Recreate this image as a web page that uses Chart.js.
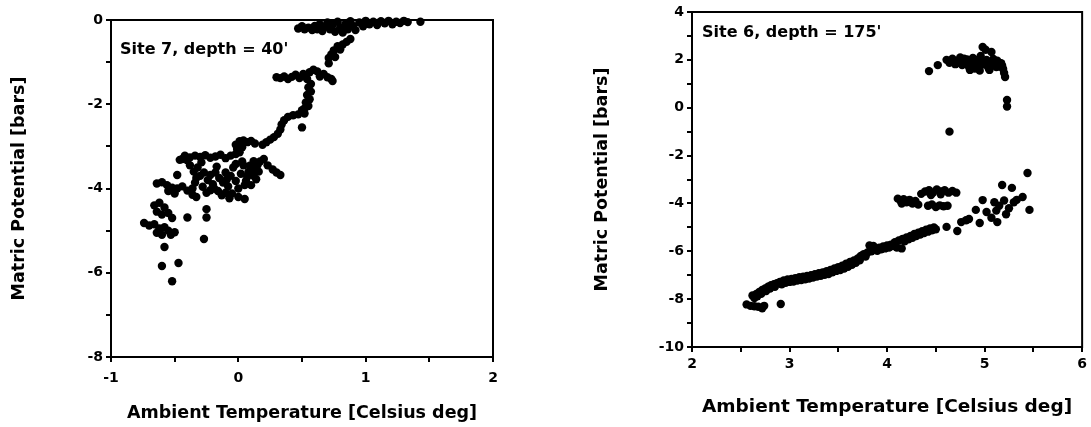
<!DOCTYPE html>
<html>
<head>
<meta charset="utf-8">
<script src="https://cdn.jsdelivr.net/npm/chart.js@4"></script>
<style>
  body { margin: 0; background: #fff; width: 1091px; height: 427px; position: relative; overflow: hidden; }
  .panel { position: absolute; top: 0; height: 427px; }
  #panel7 { left: 0; width: 545px; }
  #panel6 { left: 560px; width: 531px; }
</style>
</head>
<body>
<div class="panel" id="panel7"><canvas id="site7"></canvas></div>
<div class="panel" id="panel6"><canvas id="site6"></canvas></div>
<script>
// Site 7, depth 40' : ambient temperature [C] vs matric potential [bars]
const site7Temp = [
  0.47, 0.50, 0.52, 0.55, 0.58, 0.60, 0.62, 0.64, 0.66, 0.68, 0.70, 0.72, 0.74, 0.76, 0.78, 0.80, 0.82, 0.84, 0.86,
  0.88, 0.90, 0.92, 0.95, 0.98, 1.00, 1.03, 1.06, 1.09, 1.12, 1.15, 1.18, 1.21, 1.24, 1.27, 1.30, 1.33, 1.43,
  0.88, 0.85, 0.82, 0.78, 0.80, 0.75, 0.73, 0.76, 0.71, 0.71,
  0.30, 0.33, 0.36, 0.39, 0.42, 0.45, 0.48, 0.51, 0.54, 0.56, 0.59, 0.62, 0.64, 0.67, 0.70, 0.73, 0.74,
  0.57, 0.55, 0.57, 0.54, 0.56, 0.53, 0.55, 0.52, 0.50,
  0.52, 0.47, 0.43, 0.39, 0.36, 0.50, 0.34, 0.33, 0.31, 0.28, 0.25, 0.22, 0.19,
  -0.02, 0.01, 0.04, 0.07, 0.10, 0.13, 0.03, -0.01,
  -0.46, -0.42, -0.38, -0.34, -0.30, -0.26, -0.22, -0.18, -0.14, -0.10, -0.06, -0.02, 0.01,
  -0.38, -0.35, -0.32, -0.30, -0.27, -0.24, -0.22, -0.20, -0.18, -0.15, -0.12, -0.10, -0.08, -0.06, -0.04, -0.02,
  0.00, 0.02, 0.04, 0.06, 0.08, 0.10, 0.12, -0.28, -0.25, -0.22, -0.16, -0.13, -0.10, -0.05, 0.00, -0.34, -0.36,
  0.03, -0.02, 0.12, 0.09, 0.05,
  -0.33, -0.17, 0.07, -0.09, -0.19, 0.11, 0.15, -0.44, -0.29,
  0.17, 0.20, 0.23, 0.27, 0.30, 0.33, 0.16, 0.14,
  -0.64, -0.60, -0.56, -0.52, -0.48, -0.44, -0.40, -0.36, -0.33, -0.55, -0.50,
  -0.66, -0.62, -0.58, -0.64, -0.60, -0.55, -0.52, -0.74, -0.70, -0.66, -0.62, -0.58, -0.55, -0.64, -0.60, -0.53, -0.50,
  -0.48, -0.40, -0.40, -0.25, -0.27, -0.58, -0.60, -0.47, -0.52, -0.07, 0.05, -0.25
];
const site7Potential = [
  -0.20, -0.15, -0.22, -0.18, -0.24, -0.14, -0.22, -0.10, -0.26, -0.16, -0.06, -0.22, -0.12, -0.28, -0.04, -0.18, -0.30, -0.10, -0.22,
  -0.03, -0.14, -0.24, -0.06, -0.15, -0.02, -0.10, -0.04, -0.12, -0.03, -0.08, -0.02, -0.10, -0.04, -0.07, -0.02, -0.05, -0.04,
  -0.45, -0.52, -0.58, -0.62, -0.70, -0.72, -0.82, -0.88, -0.90, -1.03,
  -1.36, -1.38, -1.34, -1.40, -1.35, -1.30, -1.38, -1.28, -1.40, -1.24, -1.18, -1.22, -1.34, -1.28, -1.36, -1.40, -1.45,
  -1.52, -1.60, -1.70, -1.78, -1.88, -1.96, -2.04, -2.10, -2.14,
  -2.22, -2.24, -2.26, -2.30, -2.38, -2.55, -2.48, -2.60, -2.70, -2.78, -2.84, -2.90, -2.96,
  -2.96, -2.88, -2.86, -2.90, -2.87, -2.93, -3.02, -3.06,
  -3.32, -3.22, -3.26, -3.22, -3.25, -3.21, -3.27, -3.24, -3.20, -3.28, -3.22, -3.18, -3.14,
  -3.45, -3.60, -3.50, -3.70, -3.62, -3.80, -3.68, -3.90, -3.62, -3.75, -3.86, -3.62, -3.95, -3.70, -3.50, -3.82,
  -4.00, -3.65, -3.45, -3.82, -3.60, -3.92, -3.70, -3.96, -4.10, -4.04, -4.06, -4.16, -4.10, -4.12, -4.20, -3.86, -4.00,
  -3.36, -3.42, -3.35, -3.46, -3.92,
  -3.75, -3.48, -3.72, -3.78, -4.00, -3.55, -3.45, -3.30, -3.38,
  -3.36, -3.30, -3.45, -3.55, -3.62, -3.68, -3.60, -3.78,
  -3.88, -3.85, -3.92, -3.98, -4.00, -3.95, -4.05, -4.15, -4.20, -4.06, -4.12,
  -4.40, -4.34, -4.45, -4.55, -4.62, -4.58, -4.70, -4.82, -4.88, -4.85, -4.95, -4.92, -5.00, -5.05, -5.10, -5.10, -5.04,
  -3.68, -3.33, -4.69, -4.69, -5.20, -5.39, -5.84, -5.77, -6.20, -4.23, -4.25, -4.49
];

// Site 6, depth 175'
const site6Temp = [
  4.43, 4.52, 4.61, 4.64, 4.67, 4.70, 4.72, 4.75, 4.77, 4.80, 4.82, 4.84, 4.86, 4.88, 4.90, 4.92, 4.94, 4.96, 4.98,
  5.00, 5.02, 5.04, 5.06, 5.07, 5.09, 5.11, 5.13, 5.15, 5.17, 5.19, 5.20, 5.21, 4.85, 4.95, 5.05, 5.23, 5.23, 4.64,
  4.66, 4.74, 4.79, 4.83, 4.87, 4.91, 4.93, 4.97, 5.01, 5.03, 5.08, 5.10, 5.12, 5.14, 5.16, 5.18, 5.01,
  4.11, 4.14, 4.17, 4.20, 4.23, 4.26, 4.29, 4.32, 4.15, 4.35, 4.39, 4.43, 4.47, 4.51, 4.55, 4.59, 4.63, 4.67, 4.71,
  4.45, 4.55, 4.42, 4.46, 4.50, 4.54, 4.58, 4.62,
  5.44, 5.18, 5.28, 4.98, 5.46, 5.39, 5.10, 5.15, 5.20, 5.25, 5.30, 5.33, 5.12, 5.22, 4.91, 5.02, 5.13, 4.95,
  4.61, 4.72, 4.76, 4.84, 5.07, 4.81,
  2.62, 2.64, 2.66, 2.69, 2.72, 2.75, 2.78, 2.81, 2.84, 2.87, 2.90, 2.94, 2.98, 3.02, 3.06, 3.10, 3.14, 3.18, 3.22,
  3.26, 3.30, 3.34, 3.38, 3.42, 3.46, 3.50, 3.54, 3.58, 3.62, 3.66, 3.70, 3.73, 3.76, 3.80, 3.84, 3.88, 3.92, 3.96,
  4.00, 4.04, 4.08, 4.12, 4.16, 4.20, 4.24, 4.28, 4.32, 4.36, 4.40, 4.44, 4.48,
  2.67, 2.71, 2.76, 2.80, 2.85, 2.92, 2.96, 3.00, 3.04, 3.08, 3.12, 3.16, 3.20, 3.24, 3.28, 3.32, 3.36, 3.44, 3.48,
  3.52, 3.56, 3.64, 3.68, 3.72, 3.78, 3.90, 3.94, 3.98, 4.02, 4.06, 4.18, 4.22, 4.26, 4.30, 4.34, 4.38, 4.42, 4.46, 4.50,
  3.82, 3.86, 4.10, 4.15, 3.60, 3.40,
  2.56, 2.60, 2.64, 2.68, 2.72, 2.74, 2.91
];
const site6Potential = [
  1.53, 1.78, 2.00, 1.88, 2.05, 1.82, 1.96, 2.10, 1.78, 1.92, 2.02, 1.70, 1.88, 2.08, 1.64, 1.84, 1.96, 2.16, 2.54,
  1.80, 2.00, 1.66, 1.90, 2.33, 2.04, 1.84, 1.96, 1.72, 1.86, 1.62, 1.45, 1.28, 1.58, 1.55, 1.58, 0.32, 0.05, -1.00,
  1.95, 1.88, 2.05, 1.82, 1.95, 2.00, 1.72, 1.88, 1.92, 1.78, 1.78, 1.95, 1.70, 1.88, 1.80, 1.75, 2.42,
  -3.80, -3.90, -3.82, -3.95, -3.85, -4.00, -3.90, -4.05, -4.00, -3.60, -3.50, -3.45, -3.55, -3.42, -3.50, -3.45, -3.55, -3.48, -3.55,
  -3.65, -3.62, -4.10, -4.04, -4.15, -4.08, -4.12, -4.10,
  -2.73, -3.23, -3.35, -3.86, -4.27, -3.73, -3.95, -4.10, -3.88, -4.20, -3.95, -3.85, -4.30, -4.45, -4.27, -4.36, -4.78, -4.82,
  -4.98, -5.15, -4.78, -4.65, -4.60, -4.70,
  -7.85, -7.95, -7.78, -7.70, -7.62, -7.55, -7.48, -7.42, -7.38, -7.33, -7.28, -7.22, -7.18, -7.16, -7.12, -7.08, -7.06, -7.03, -7.00,
  -6.96, -6.92, -6.88, -6.83, -6.78, -6.72, -6.66, -6.60, -6.52, -6.45, -6.38, -6.30, -6.20, -6.12, -6.05, -6.00, -5.92, -5.85, -5.80,
  -5.76, -5.72, -5.62, -5.55, -5.48, -5.42, -5.36, -5.28, -5.22, -5.16, -5.10, -5.05, -5.00,
  -7.88, -7.78, -7.66, -7.56, -7.48, -7.38, -7.32, -7.28, -7.26, -7.22, -7.20, -7.17, -7.14, -7.10, -7.06, -7.02, -6.98, -6.88, -6.82,
  -6.78, -6.72, -6.56, -6.48, -6.38, -6.22, -5.98, -5.92, -5.88, -5.84, -5.78, -5.58, -5.50, -5.44, -5.36, -5.30, -5.24, -5.18, -5.12, -5.08,
  -5.76, -5.78, -5.84, -5.88, -6.65, -6.95,
  -8.22, -8.28, -8.30, -8.32, -8.38, -8.28, -8.20
];

const FONT = '"DejaVu Sans", "Liberation Sans", sans-serif';

// plot frame on all four sides plus the site caption inside the plot
const framePlugin = {
  id: 'frame',
  afterDraw(chart, args, opts) {
    const { ctx, chartArea: a } = chart;
    ctx.save();
    ctx.strokeStyle = '#000';
    ctx.lineWidth = 2;
    ctx.strokeRect(a.left, a.top, a.right - a.left, a.bottom - a.top);
    ctx.fillStyle = '#000';
    ctx.font = 'bold 16px ' + FONT;
    ctx.textBaseline = 'middle';
    ctx.fillText(opts.text, a.left + opts.dx, a.top + opts.dy);
    ctx.restore();
  }
};

const isWhole = (v, every) => Math.abs(v / every - Math.round(v / every)) < 1e-6;

function makeChart(id, temps, potentials, s) {
  const points = temps.map((t, i) => ({ x: t, y: potentials[i] }));
  const tickFont = { family: FONT, size: 14, weight: 'bold' };

  new Chart(document.getElementById(id), {
    type: 'scatter',
    data: {
      datasets: [{
        data: points,
        pointRadius: 4.2,
        pointBorderWidth: 0,
        backgroundColor: '#000',
        borderColor: '#000',
        clip: false
      }]
    },
    options: {
      responsive: true,
      maintainAspectRatio: false,
      animation: false,
      layout: { padding: { top: s.padTop, right: s.padRight, left: 0, bottom: 0 } },
      plugins: {
        legend: { display: false },
        tooltip: { enabled: false },
        frame: { text: s.label, dx: s.labelDx, dy: s.labelDy }
      },
      scales: {
        x: {
          type: 'linear',
          min: s.xMin, max: s.xMax,
          afterFit(scale) { scale.height = s.xHeight; },
          ticks: {
            stepSize: 0.5, autoSkip: false, maxRotation: 0, color: '#000',
            padding: s.xTickPad, font: tickFont,
            callback: v => isWhole(v, 1) ? String(v) : ''
          },
          grid: { drawOnChartArea: false, tickLength: 5, color: '#000', lineWidth: 2 },
          border: { color: '#000', width: 2 },
          title: {
            display: true, text: 'Ambient Temperature [Celsius deg]', color: '#000',
            font: { family: FONT, size: s.xTitleSize, weight: 'bold' },
            padding: { top: 0, bottom: s.xTitlePad }
          }
        },
        y: {
          type: 'linear',
          min: s.yMin, max: s.yMax,
          afterFit(scale) { scale.width = s.yWidth; },
          ticks: {
            stepSize: 1, autoSkip: false, color: '#000', padding: 3, font: tickFont,
            callback: v => isWhole(v, 2) ? String(v) : ''
          },
          grid: { drawOnChartArea: false, tickLength: 5, color: '#000', lineWidth: 2 },
          border: { color: '#000', width: 2 },
          title: {
            display: true, text: 'Matric Potential [bars]', color: '#000',
            font: { family: FONT, size: 17.5, weight: 'bold' },
            padding: { top: s.yTitlePad, bottom: 0 }
          }
        }
      }
    },
    plugins: [framePlugin]
  });
}

makeChart('site7', site7Temp, site7Potential, {
  xMin: -1, xMax: 2, yMin: -8, yMax: 0,
  label: "Site 7, depth = 40'", labelDx: 9, labelDy: 30,
  padTop: 20, padRight: 52, yWidth: 111, xHeight: 70,
  xTickPad: 8, xTitlePad: 3, xTitleSize: 17.5, yTitlePad: 9
});

makeChart('site6', site6Temp, site6Potential, {
  xMin: 2, xMax: 6, yMin: -10, yMax: 4,
  label: "Site 6, depth = 175'", labelDx: 10, labelDy: 21,
  padTop: 12, padRight: 8, yWidth: 132, xHeight: 80,
  xTickPad: 4, xTitlePad: 9, xTitleSize: 18.5, yTitlePad: 32
});
</script>
</body>
</html>
